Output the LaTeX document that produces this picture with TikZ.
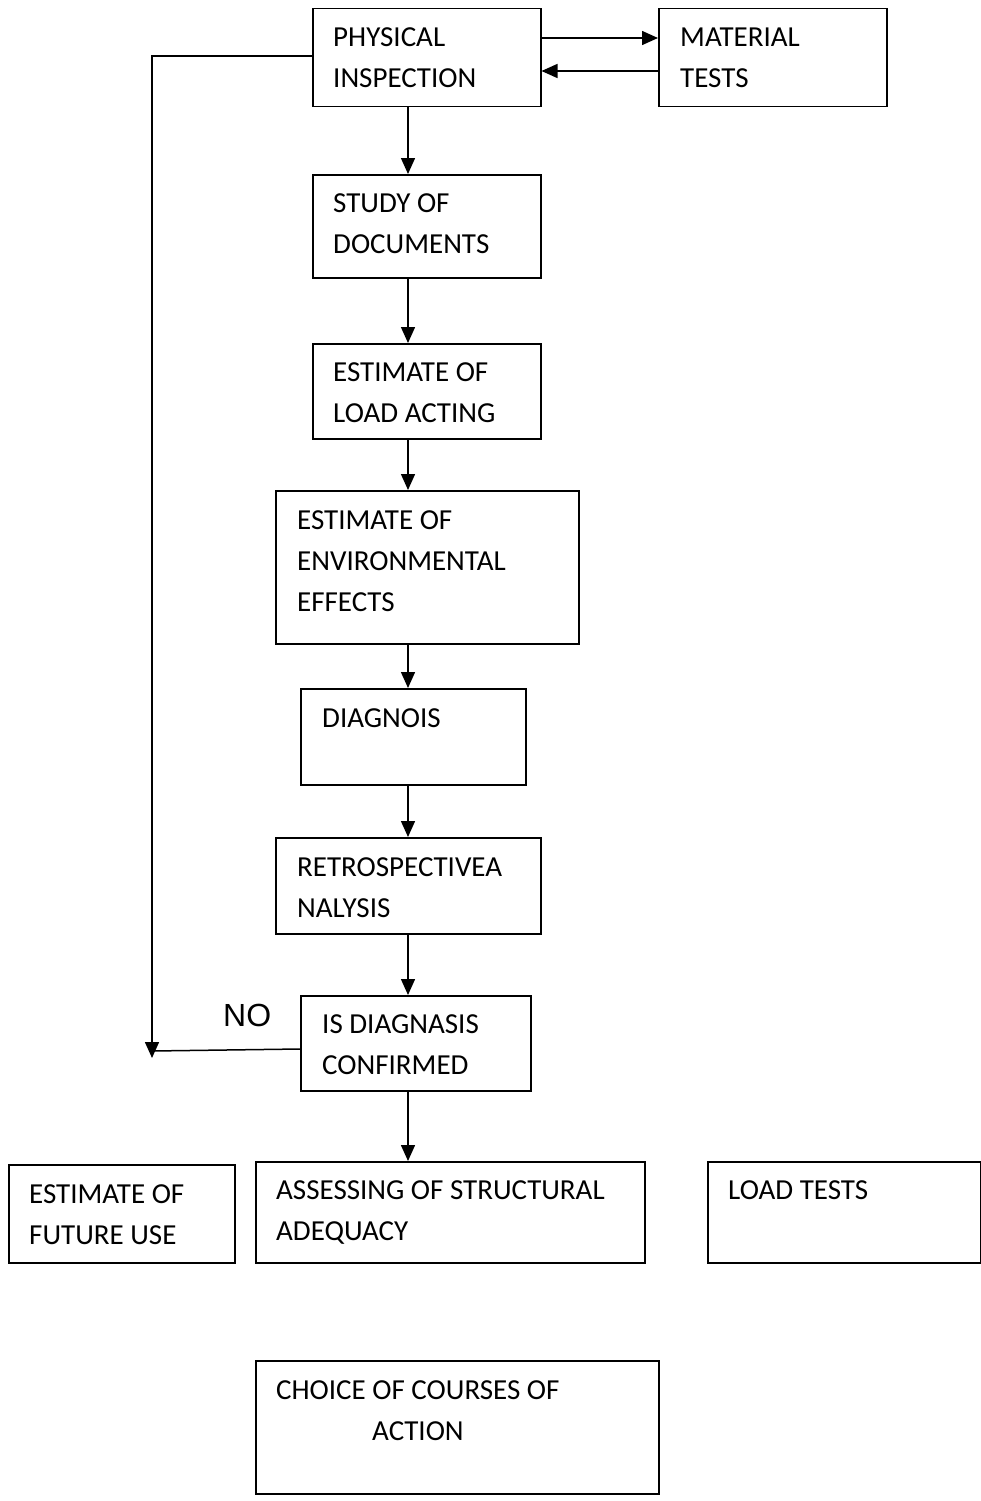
\documentclass[tikz,border=0pt]{standalone}
\usepackage{fontspec}
\setmainfont{Carlito}
\newfontfamily\nofont{Liberation Sans}
\usetikzlibrary{arrows.meta}
\begin{document}
\begin{tikzpicture}[x=1pt,y=-1pt,
  box/.style={draw,line width=1.5pt,rectangle,inner sep=0pt,anchor=north west},
  txt/.style={anchor=base west,align=left,inner sep=0pt,font=\fontsize{29}{41}\selectfont},
  conn/.style={line width=1.5pt},
  arr/.style={conn,-{Triangle[length=16pt,width=14pt]}}]
\useasboundingbox (0,0) rectangle (981,1501);
% #8 = baseline of the LAST text line
\newcommand\bx[8]{%
  \node[box,minimum width={#4-#2},minimum height={#5-#3}] (#1) at (#2,#3) {};
  \node[txt] (#1t) at (#7,#8) {#6};}
\bx{pi}{312}{8}{540}{106}{PHYSICAL\\INSPECTION}{333}{88}
\bx{mt}{658}{8}{886}{106}{MATERIAL\\TESTS}{680}{88}
\bx{sd}{312}{174}{540}{277}{STUDY OF\\DOCUMENTS}{333}{253}
\bx{ld}{312}{343}{540}{438}{ESTIMATE OF\\LOAD ACTING}{333}{422}
\bx{en}{275}{490}{578}{643}{ESTIMATE OF\\ENVIRONMENTAL\\EFFECTS}{297}{611}
\bx{dg}{300}{688}{525}{784}{DIAGNOIS}{322}{727}
\bx{rt}{275}{837}{540}{933}{RETROSPECTIVEA\\NALYSIS}{297}{917}
\bx{ic}{300}{995}{530}{1090}{IS DIAGNASIS\\CONFIRMED}{322}{1074}
\bx{fu}{8}{1164}{234}{1262}{ESTIMATE OF\\FUTURE USE}{29}{1244}
\bx{as}{255}{1161}{644}{1262}{ASSESSING OF STRUCTURAL\\ADEQUACY}{276}{1240}
\bx{lt}{707}{1161}{980}{1262}{LOAD TESTS}{728}{1199}
\bx{ch}{255}{1360}{658}{1493}{CHOICE OF COURSES OF\\\hspace*{96pt}ACTION}{276}{1440}
\node[anchor=base west,inner sep=0pt,font=\nofont\fontsize{32}{38}\selectfont] (no) at (223,1026) {NO};
\coordinate (c1) at (152,56);
\coordinate (c2) at (152,1058);
\coordinate (c3) at (152,1051);
\draw[arr] (pi.east |- 0,38) -- (mt.west |- 0,38);
\draw[arr] (mt.west |- 0,71) -- (pi.east |- 0,71);
\draw[arr] (pi.south -| 408,0) -- (sd.north -| 408,0);
\draw[arr] (sd.south -| 408,0) -- (ld.north -| 408,0);
\draw[arr] (ld.south -| 408,0) -- (en.north -| 408,0);
\draw[arr] (en.south -| 408,0) -- (dg.north -| 408,0);
\draw[arr] (dg.south -| 408,0) -- (rt.north -| 408,0);
\draw[arr] (rt.south -| 408,0) -- (ic.north -| 408,0);
\draw[arr] (ic.south -| 408,0) -- (as.north -| 408,0);
\draw[arr] (pi.west |- c1) -- (c1) -- (c2);
\draw[conn] (ic.west |- 0,1049) -- (c3);
\end{tikzpicture}
\end{document}
